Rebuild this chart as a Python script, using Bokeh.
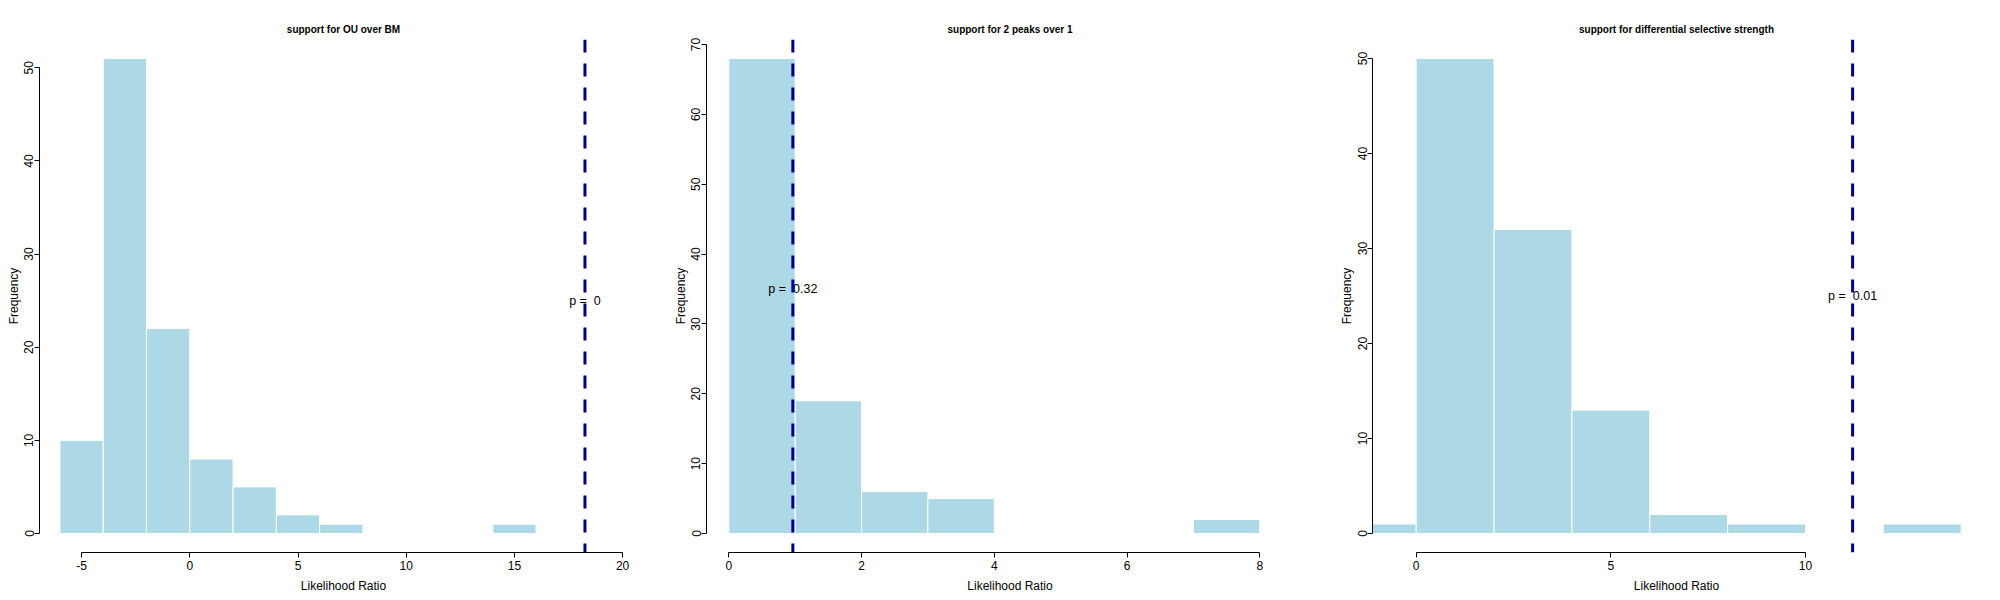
import math
from bokeh.plotting import figure
from bokeh.layouts import row
from bokeh.models import Range1d, Span, FixedTicker, ColumnDataSource
from bokeh.core.properties import value
from bokeh.embed import file_html
from bokeh.resources import INLINE

# ---------------- data ----------------
titles = ["support for OU over BM",
          "support for 2 peaks over 1",
          "support for differential selective strength"]

breaks_ou = [-6, -4, -2, 0, 2, 4, 6, 8, 10, 12, 14, 16]
counts_ou = [10, 51, 22, 8, 5, 2, 1, 0, 0, 0, 1]

breaks_peaks = [0, 1, 2, 3, 4, 5, 6, 7, 8]
counts_peaks = [68, 19, 6, 5, 0, 0, 0, 2]

breaks_sel = [-2, 0, 2, 4, 6, 8, 10, 12, 14]
counts_sel = [1, 50, 32, 13, 2, 1, 0, 1]

observed_lr = [18.26, 0.965, 11.21]
p_values = ["0", "0.32", "0.01"]
p_label_y = [25, 35, 25]

x_ticks = [[-5, 0, 5, 10, 15, 20], [0, 2, 4, 6, 8], [0, 5, 10]]
y_ticks = [[0, 10, 20, 30, 40, 50], [0, 10, 20, 30, 40, 50, 60, 70],
           [0, 10, 20, 30, 40, 50]]

# ---------------- layout / style ----------------
FONT = "Liberation Sans"
H = 600
# (width, border_left, border_right, x_start, x_end)
layout_cfg = [
    (667, 39, 20, -6.945, 21.15),
    (666, 39, 20, -0.336, 8.809),
    (667, 39, 20, -1.1225, 14.495),
]


def panel(i, brks, cnts):
    w, bl, br, xs, xe = layout_cfg[i]
    ymax = max(cnts)
    p = figure(width=w, height=H, output_backend="svg", toolbar_location=None,
               x_range=Range1d(xs, xe),
               y_range=Range1d(-0.04 * ymax, 1.04 * ymax),
               min_border_left=bl, min_border_right=br,
               min_border_top=39, min_border_bottom=48,
               title=titles[i])
    p.outline_line_color = None
    p.grid.visible = False
    p.background_fill_color = "white"
    p.border_fill_color = "white"

    p.title.text_font = FONT
    p.title.text_font_size = "10px"
    p.title.text_font_style = "bold"
    p.title.align = "center"
    p.title.text_color = "black"
    p.title.standoff = 10

    src = ColumnDataSource(dict(left=brks[:-1], right=brks[1:], top=cnts,
                                bottom=[0] * len(cnts)))
    p.quad(left="left", right="right", top="top", bottom="bottom", source=src,
           fill_color="#ADD8E6", line_color="white", line_width=1)

    p.add_layout(Span(location=observed_lr[i], dimension="height",
                      line_color="#00008B", line_width=3, line_dash="13 11"))

    p.text(x=[observed_lr[i]], y=[p_label_y[i]],
           text=["p = \u00a0" + p_values[i]],
           text_font=value(FONT), text_font_size=value("12.5px"),
           text_align="center", text_baseline="middle", text_color="black")

    xt, yt = x_ticks[i], y_ticks[i]
    for ax, ticks in ((p.xaxis[0], xt), (p.yaxis[0], yt)):
        ax.ticker = FixedTicker(ticks=ticks)
        ax.bounds = (ticks[0], ticks[-1])
        ax.major_label_overrides = {t: str(t) for t in ticks}
        ax.axis_line_color = "black"
        ax.axis_line_width = 1
        ax.major_tick_line_color = "black"
        ax.major_tick_in = 0
        ax.major_tick_out = 5
        ax.minor_tick_line_color = None
        ax.major_label_text_font = FONT
        ax.major_label_text_font_size = "12px"
        ax.major_label_text_color = "black"
        ax.axis_label_text_font = FONT
        ax.axis_label_text_font_size = "12px"
        ax.axis_label_text_font_style = "normal"
        ax.axis_label_text_color = "black"
    p.xaxis.axis_label = "Likelihood Ratio"
    p.xaxis.major_label_standoff = 3
    p.xaxis.axis_label_standoff = 6
    p.yaxis.axis_label = "Frequency"
    p.yaxis.major_label_orientation = "parallel"
    p.yaxis.major_label_standoff = 1
    p.yaxis.axis_label_standoff = 1
    return p


p1 = panel(0, breaks_ou, counts_ou)
p2 = panel(1, breaks_peaks, counts_peaks)
p3 = panel(2, breaks_sel, counts_sel)

layout = row(p1, p2, p3)
open("out.html", "w").write(file_html(layout, INLINE))
